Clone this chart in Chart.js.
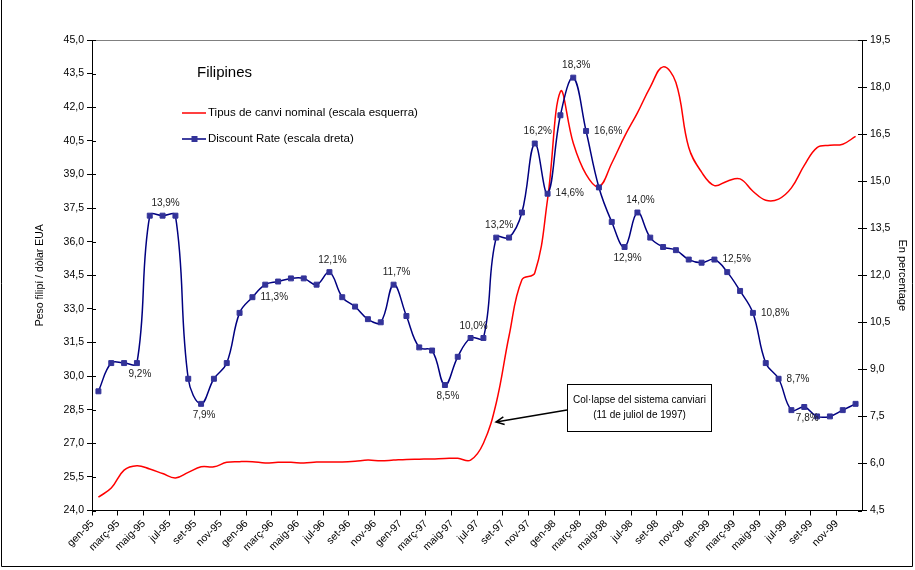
<!DOCTYPE html>
<html lang="ca">
<head>
<meta charset="utf-8">
<title>Filipines</title>
<script src="https://cdn.jsdelivr.net/npm/chart.js@4.4.1/dist/chart.umd.min.js"></script>
<style>
  html, body { margin: 0; padding: 0; background: #fff; }
  #wrap { width: 915px; height: 570px; }
</style>
</head>
<body>
<div id="wrap"><canvas id="grafic" width="915" height="570"></canvas></div>
<script>
// mesos en català, de gener de 1995 a desembre de 1999
const mesos = ['gen', 'febr', 'març', 'abr', 'maig', 'juny', 'jul', 'ag', 'set', 'oct', 'nov', 'des'];
const anys = ['95', '96', '97', '98', '99'];
const categories = [];
anys.forEach(a => mesos.forEach(m => categories.push(m + '-' + a)));

// Tipus de canvi nominal, pesos per dòlar (escala esquerra)
const tipusCanvi = [
  24.6, 25.0, 25.8, 26.0, 25.85, 25.65, 25.45, 25.7, 25.95, 25.95, 26.15, 26.18,
  26.18, 26.12, 26.15, 26.15, 26.12, 26.16, 26.17, 26.17, 26.2, 26.25, 26.22, 26.25,
  26.28, 26.29, 26.3, 26.32, 26.33, 26.25, 27.0, 28.8, 31.8, 34.3, 34.6, 37.9,
  42.7, 40.4, 39.0, 38.45, 39.5, 40.7, 41.75, 42.9, 43.8, 43.1, 40.2, 39.1,
  38.5, 38.7, 38.8, 38.25, 37.85, 37.9, 38.4, 39.4, 40.2, 40.3, 40.35, 40.7
];

// Discount rate en % (escala dreta)
const discountRate = [
  8.3, 9.2, 9.2, 9.2, 13.9, 13.9, 13.9, 8.7, 7.9, 8.7, 9.2, 10.8,
  11.3, 11.7, 11.8, 11.9, 11.9, 11.7, 12.1, 11.3, 11.0, 10.6, 10.5, 11.7,
  10.7, 9.7, 9.6, 8.5, 9.4, 10.0, 10.0, 13.2, 13.2, 14.0, 16.2, 14.6,
  17.1, 18.3, 16.6, 14.8, 13.7, 12.9, 14.0, 13.2, 12.9, 12.8, 12.5, 12.4,
  12.5, 12.1, 11.5, 10.8, 9.2, 8.7, 7.7, 7.8, 7.5, 7.5, 7.7, 7.9
];

// escales: [mínim, màxim, pas]
const escalaEsquerra = [24, 45, 1.5];
const escalaDreta = [4.5, 19.5, 1.5];

// punts de la sèrie blava amb etiqueta de valor
const ambEtiqueta = [3, 5, 8, 12, 18, 23, 27, 29, 31, 34, 35, 37, 38, 41, 42, 48, 51, 53, 55];
const llocEtiqueta = ['sota', 'sobre', 'sota', 'dreta', 'sobre', 'sobre', 'sota', 'sobre', 'sobre', 'sobre',
  'dreta', 'sobre', 'dreta', 'sota', 'sobre', 'dreta', 'dreta', 'dreta', 'sota'];

const FONT = "'Liberation Sans', Arial, sans-serif";
const coma = v => v.toFixed(1).replace('.', ',');

const decor = {
  id: 'decor',
  beforeDraw(chart) {
    const ctx = chart.ctx;
    ctx.save();
    ctx.fillStyle = '#fff';
    ctx.fillRect(0, 0, chart.width, chart.height);
    ctx.restore();
  },
  afterDraw(chart) {
    const { ctx, chartArea: a, scales } = chart;
    ctx.save();

    // vora superior de l'àrea del gràfic
    ctx.strokeStyle = '#808080';
    ctx.lineWidth = 1;
    ctx.beginPath();
    ctx.moveTo(a.left, a.top + 0.5);
    ctx.lineTo(a.right, a.top + 0.5);
    ctx.stroke();

    // marques que travessen els eixos verticals
    ctx.strokeStyle = '#000';
    ctx.beginPath();
    scales.yEsq.ticks.forEach(t => {
      const y = Math.round(scales.yEsq.getPixelForValue(t.value)) + 0.5;
      ctx.moveTo(a.left, y); ctx.lineTo(a.left + 4, y);
    });
    scales.yDre.ticks.forEach(t => {
      const y = Math.round(scales.yDre.getPixelForValue(t.value)) + 0.5;
      ctx.moveTo(a.right - 4, y); ctx.lineTo(a.right, y);
    });
    ctx.stroke();

    // marc exterior
    ctx.beginPath();
    ctx.moveTo(1.5, 0); ctx.lineTo(1.5, 566.5);
    ctx.lineTo(912.5, 566.5); ctx.lineTo(912.5, 0);
    ctx.stroke();

    // títol
    ctx.fillStyle = '#000';
    ctx.font = '15px ' + FONT;
    ctx.textAlign = 'left';
    ctx.textBaseline = 'middle';
    ctx.fillText('Filipines', 197, 73);

    // llegenda
    const ds = chart.data.datasets;
    ctx.font = '11.5px ' + FONT;
    [[ds[0], 113], [ds[1], 139]].forEach(([d, y]) => {
      ctx.strokeStyle = d.borderColor;
      ctx.lineWidth = 1.5;
      ctx.beginPath();
      ctx.moveTo(182, y); ctx.lineTo(206, y);
      ctx.stroke();
      if (d.pointRadius) {
        ctx.fillStyle = d.pointBackgroundColor;
        ctx.fillRect(191.5, y - 3, 6, 6);
      }
      ctx.fillStyle = '#000';
      ctx.fillText(d.label, 208, y);
    });

    // etiquetes de valor de la sèrie blava
    const meta = chart.getDatasetMeta(1);
    ctx.font = '10px ' + FONT;
    ctx.fillStyle = '#222';
    ambEtiqueta.forEach((i, k) => {
      const p = meta.data[i];
      const txt = coma(discountRate[i]) + '%';
      const lloc = llocEtiqueta[k];
      if (lloc === 'sobre') {
        ctx.textAlign = 'center';
        ctx.fillText(txt, p.x + 3, p.y - 12);
      } else if (lloc === 'sota') {
        ctx.textAlign = 'center';
        ctx.fillText(txt, p.x + 3, p.y + 11);
      } else {
        ctx.textAlign = 'left';
        ctx.fillText(txt, p.x + 8, p.y);
      }
    });

    // nota del col·lapse amb fletxa
    ctx.strokeStyle = '#000';
    ctx.lineWidth = 1;
    ctx.fillStyle = '#fff';
    ctx.fillRect(567.5, 384.5, 144, 47);
    ctx.strokeRect(567.5, 384.5, 144, 47);
    ctx.fillStyle = '#000';
    ctx.textAlign = 'center';
    ctx.fillText('Col·lapse del sistema canviari', 639.5, 400);
    ctx.fillText('(11 de juliol de 1997)', 639.5, 415);

    const x0 = 567, y0 = 410, x1 = 496, y1 = 422;
    const ang = Math.atan2(y1 - y0, x1 - x0);
    ctx.lineWidth = 1.5;
    ctx.beginPath();
    ctx.moveTo(x0, y0); ctx.lineTo(x1, y1);
    ctx.moveTo(x1 + 9 * Math.cos(ang + Math.PI - 0.45), y1 + 9 * Math.sin(ang + Math.PI - 0.45));
    ctx.lineTo(x1, y1);
    ctx.lineTo(x1 + 9 * Math.cos(ang + Math.PI + 0.45), y1 + 9 * Math.sin(ang + Math.PI + 0.45));
    ctx.stroke();

    ctx.restore();
  }
};

const tickFont = { family: FONT, size: 10.5 };

new Chart(document.getElementById('grafic'), {
  type: 'line',
  data: {
    labels: categories,
    datasets: [
      {
        label: 'Tipus de canvi nominal (escala esquerra)',
        data: tipusCanvi,
        yAxisID: 'yEsq',
        borderColor: '#ff0000',
        borderWidth: 1.5,
        pointRadius: 0,
        tension: 0.4,
        order: 1
      },
      {
        label: 'Discount Rate (escala dreta)',
        data: discountRate,
        yAxisID: 'yDre',
        borderColor: '#000080',
        borderWidth: 1.5,
        pointStyle: 'rect',
        pointRadius: 3.5,
        pointBackgroundColor: '#333399',
        pointBorderColor: '#333399',
        pointBorderWidth: 1,
        tension: 0.4,
        order: 0
      }
    ]
  },
  options: {
    responsive: false,
    animation: false,
    devicePixelRatio: 1,
    layout: { padding: { left: 30, right: 2, top: 40, bottom: 0 } },
    plugins: {
      legend: { display: false },
      tooltip: { enabled: false }
    },
    scales: {
      x: {
        type: 'category',
        offset: true,
        grid: {
          drawOnChartArea: false,
          offset: true,
          tickLength: 5,
          color: c => (c.index % 2 === 0 ? '#000' : 'rgba(0,0,0,0)')
        },
        border: { color: '#000', width: 1 },
        ticks: {
          autoSkip: false,
          minRotation: 45,
          maxRotation: 45,
          labelOffset: -6,
          padding: 2,
          color: '#000',
          font: tickFont,
          callback: (v, i) => (i % 2 === 0 ? categories[i] : '')
        },
        afterFit: s => { s.height = 59.5; }
      },
      yEsq: {
        position: 'left',
        min: escalaEsquerra[0],
        max: escalaEsquerra[1],
        ticks: { stepSize: escalaEsquerra[2], color: '#000', font: tickFont, padding: 3, callback: v => coma(v) },
        grid: { drawOnChartArea: false, tickLength: 5, color: '#000' },
        border: { color: '#000', width: 1 },
        title: { display: true, text: 'Peso filipí / dòlar EUA', color: '#000', font: { family: FONT, size: 10.5 } },
        afterFit: s => { s.width = 62; }
      },
      yDre: {
        position: 'right',
        min: escalaDreta[0],
        max: escalaDreta[1],
        ticks: { stepSize: escalaDreta[2], color: '#000', font: tickFont, padding: 3, callback: v => coma(v) },
        grid: { drawOnChartArea: false, tickLength: 5, color: '#000' },
        border: { color: '#000', width: 1 },
        title: { display: true, text: 'En percentage', color: '#000', font: { family: FONT, size: 11 } },
        afterFit: s => { s.width = 51; }
      }
    }
  },
  plugins: [decor]
});
</script>
</body>
</html>
